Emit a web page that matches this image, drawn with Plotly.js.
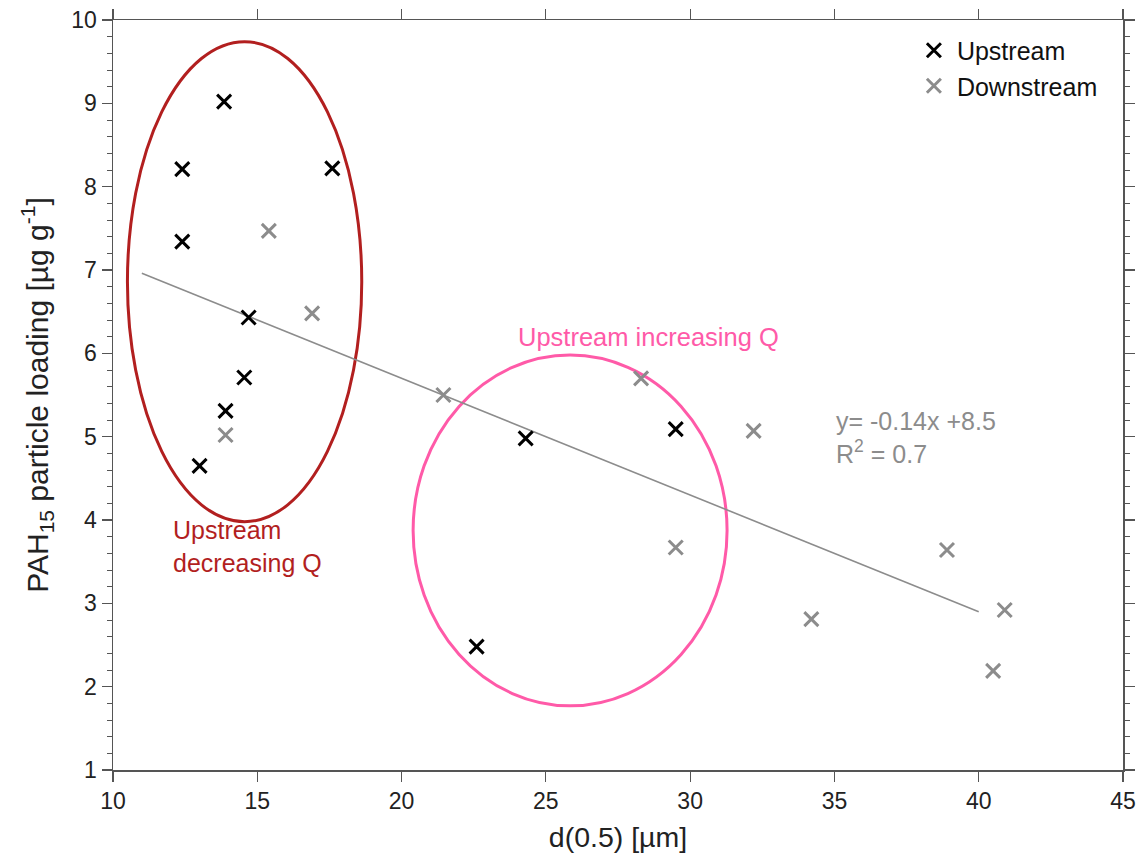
<!DOCTYPE html>
<html>
<head>
<meta charset="utf-8">
<script src="https://cdn.plot.ly/plotly-3.0.1.min.js"></script>
<style>
  html, body { margin: 0; padding: 0; background: #fff; }
  #chart { width: 1142px; height: 854px; }
</style>
</head>
<body>
<div id="chart"></div>
<script>
// Median grain size d(0.5) [µm] and PAH15 particle loading [µg/g]
const upstreamX = [13.85, 12.4, 17.6, 12.4, 14.7, 14.55, 13.9, 13.0, 24.3, 29.5, 22.6];
const upstreamY = [9.02, 8.21, 8.22, 7.34, 6.43, 5.71, 5.31, 4.65, 4.98, 5.09, 2.48];

const downstreamX = [15.4, 16.9, 13.9, 21.45, 28.3, 32.2, 29.5, 38.9, 34.2, 40.9, 40.5];
const downstreamY = [7.47, 6.48, 5.02, 5.50, 5.70, 5.07, 3.67, 3.64, 2.81, 2.92, 2.19];

// Linear fit of all samples: y = slope * x + intercept
const fitSlope = -0.14;
const fitIntercept = 8.5;
const fitRange = [11, 40];

const FONT = 'Arial, "Liberation Sans", Helvetica, sans-serif';
const AXIS_COLOR = '#555555';
const TEXT_COLOR = '#222222';

const fitY = fitRange.map(x => fitSlope * x + fitIntercept);

const traces = [
  {
    x: fitRange, y: fitY, mode: 'lines', type: 'scatter',
    line: { color: '#8c8c8c', width: 1.6 },
    showlegend: false, hoverinfo: 'skip'
  },
  {
    x: upstreamX, y: upstreamY, mode: 'markers', type: 'scatter', name: 'Upstream',
    marker: { symbol: 'x-thin', size: 14, color: '#000000', line: { color: '#000000', width: 3 } }
  },
  {
    x: downstreamX, y: downstreamY, mode: 'markers', type: 'scatter', name: 'Downstream',
    marker: { symbol: 'x-thin', size: 14, color: '#8c8c8c', line: { color: '#8c8c8c', width: 3 } }
  }
];

const layout = {
  width: 1142, height: 854,
  margin: { l: 113, r: 19, t: 20, b: 84 },
  paper_bgcolor: '#ffffff', plot_bgcolor: '#ffffff',
  font: { family: FONT, color: TEXT_COLOR, size: 22 },
  showlegend: true,
  legend: {
    x: 0.79, y: 0.99, xanchor: 'left', yanchor: 'top',
    bgcolor: 'rgba(0,0,0,0)', borderwidth: 0,
    itemwidth: 36,
    font: { family: FONT, size: 25, color: '#111111' },
    tracegroupgap: 0
  },
  xaxis: {
    range: [10, 45], dtick: 5, tick0: 10,
    showgrid: false, zeroline: false,
    showline: true, linecolor: AXIS_COLOR, linewidth: 1.5, mirror: 'allticks',
    ticks: 'outside', ticklen: 10, tickwidth: 1.2, tickcolor: AXIS_COLOR,
    tickfont: { family: FONT, size: 23, color: TEXT_COLOR },
    title: { text: 'd(0.5) [µm]', font: { family: FONT, size: 28.5, color: TEXT_COLOR }, standoff: 14 }
  },
  yaxis: {
    range: [1, 10], dtick: 1, tick0: 1,
    showgrid: false, zeroline: false,
    showline: true, linecolor: AXIS_COLOR, linewidth: 1.5, mirror: 'allticks',
    ticks: 'outside', ticklen: 10, tickwidth: 1.2, tickcolor: AXIS_COLOR,
    minor: { dtick: 0.2, ticks: 'outside', ticklen: 5, tickwidth: 1, tickcolor: AXIS_COLOR, showgrid: false },
    tickfont: { family: FONT, size: 23, color: TEXT_COLOR },
    title: { text: 'PAH<sub>15</sub> particle loading [µg g<sup>-1</sup>]', font: { family: FONT, size: 30, color: TEXT_COLOR }, standoff: 14 }
  },
  shapes: [
    {
      type: 'circle', xref: 'x', yref: 'y',
      x0: 10.5, x1: 18.62, y0: 3.98, y1: 9.74,
      line: { color: '#B21F1F', width: 3 }, layer: 'below'
    },
    {
      type: 'circle', xref: 'x', yref: 'y',
      x0: 20.4, x1: 31.28, y0: 1.77, y1: 5.98,
      line: { color: '#FF5AA8', width: 3 }, layer: 'below'
    }
  ],
  annotations: [
    {
      xref: 'x', yref: 'y', x: 12.0, y: 3.68, xanchor: 'left', yanchor: 'middle', align: 'left',
      text: 'Upstream<br>decreasing Q', showarrow: false,
      font: { family: FONT, size: 25, color: '#B21F1F' }
    },
    {
      xref: 'x', yref: 'y', x: 28.55, y: 6.2, xanchor: 'center', yanchor: 'middle',
      text: 'Upstream increasing Q', showarrow: false,
      font: { family: FONT, size: 25.5, color: '#FF5AA8' }
    },
    {
      xref: 'x', yref: 'y', x: 35.0, y: 4.99, xanchor: 'left', yanchor: 'middle', align: 'left',
      text: 'y= -0.14x +8.5<br>R<sup>2</sup> = 0.7', showarrow: false,
      font: { family: FONT, size: 25, color: '#8c8c8c' }
    }
  ]
};

Plotly.newPlot('chart', traces, layout, { displayModeBar: false, staticPlot: true });
</script>
</body>
</html>
